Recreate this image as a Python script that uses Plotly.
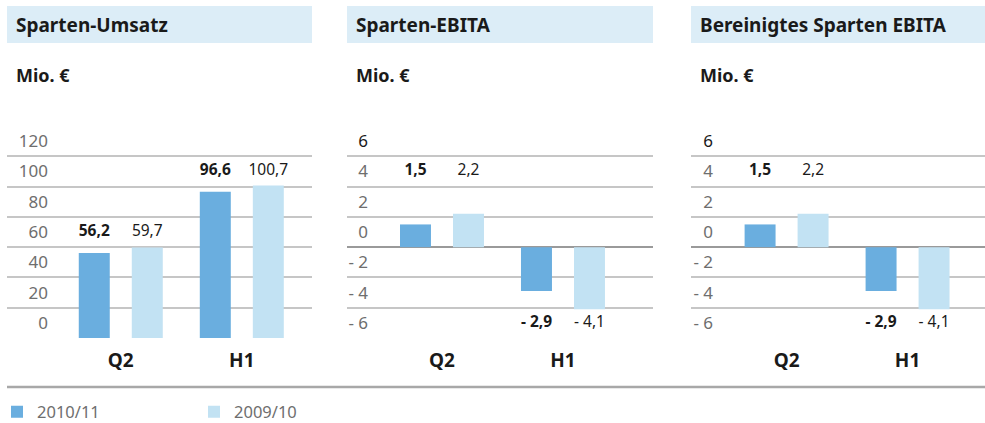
import math

import plotly.graph_objects as go

W, H = 985, 423

PANELS = ["Sparten-Umsatz", "Sparten-EBITA", "Bereinigtes Sparten EBITA"]
UNIT = "Mio. €"
CATEGORIES = ["Q2", "H1"]
SERIES = ["2010/11", "2009/10"]

umsatz_2010 = [56.2, 96.6]
umsatz_2009 = [59.7, 100.7]
ebita_2010 = [1.5, -2.9]
ebita_2009 = [2.2, -4.1]
ebita_ber_2010 = [1.5, -2.9]
ebita_ber_2009 = [2.2, -4.1]

umsatz_ticks = [0, 20, 40, 60, 80, 100, 120]
umsatz_ticktext = ["0", "20", "40", "60", "80", "100", "120"]
ebita_ticks = [-6, -4, -2, 0, 2, 4, 6]
ebita_ticktext = ["- 6", "- 4", "- 2", "0", "2", "4", "6"]

DARK = "#6aaedf"
LIGHT = "#c2e2f3"
HEAD_BG = "#dcedf7"
INK = "#1a1a1a"
MUTED = "#6e6e6e"
GRID = "#c6c6c6"
FONT = "Noto Sans"


def px_x(x):
    return x / W


def px_y(y):
    return 1 - y / H


def fmt(v):
    s = f"{abs(v):.1f}".replace(".", ",")
    return f"- {s}" if v < 0 else s


def label_pos(a, b, step):
    # centre of the first band that leaves room beyond the longer bar
    if a >= 0:
        top = max(a, b)
        c = math.floor(top / step) * step + step / 2
        while c - top < 0.43 * step:
            c += step
    else:
        top = min(a, b)
        c = math.ceil(top / step) * step - step / 2
        while top - c < 0.43 * step:
            c -= step
    return c


# panel geometry in pixels: plot left/right, right edge of y labels, x range
geo = [
    dict(x0=7, x1=312, lab=48, xr=[-0.94, 1.58]),
    dict(x0=347, x1=653, lab=368, xr=[-0.785, 1.744]),
    dict(x0=691, x1=985, lab=713, xr=[-0.79, 1.64]),
]
data = [
    (umsatz_2010, umsatz_2009, umsatz_ticks, umsatz_ticktext, 20, [0, 140]),
    (ebita_2010, ebita_2009, ebita_ticks, ebita_ticktext, 2, [-6, 8]),
    (ebita_ber_2010, ebita_ber_2009, ebita_ticks, ebita_ticktext, 2, [-6, 8]),
]

OFF = 0.219
BW = 0.256
Y_TOP, Y_BOT = 126, 338

fig = go.Figure()
layout = dict(shapes=[], annotations=[])

for i, (title, g, (s1, s2, ticks, ticktext, step, yr)) in enumerate(zip(PANELS, geo, data)):
    n = "" if i == 0 else str(i + 1)
    xa, ya = "x" + n, "y" + n
    xs = list(range(len(CATEGORIES)))

    fig.add_trace(go.Bar(
        x=xs, y=s1, width=BW, offset=-OFF - BW / 2, marker_color=DARK, marker_line_width=0,
        name=SERIES[0], showlegend=(i == 0), legendgroup="a", xaxis=xa, yaxis=ya, hoverinfo="skip",
    ))
    fig.add_trace(go.Bar(
        x=xs, y=s2, width=BW, offset=OFF - BW / 2, marker_color=LIGHT, marker_line_width=0,
        name=SERIES[1], showlegend=(i == 0), legendgroup="b", xaxis=xa, yaxis=ya, hoverinfo="skip",
    ))

    lab_y = [label_pos(a, b, step) for a, b in zip(s1, s2)]
    fig.add_trace(go.Scatter(
        x=[k - OFF for k in xs], y=lab_y, mode="text", text=[f"<b>{fmt(v)}</b>" for v in s1],
        textfont=dict(family=FONT, size=15.5, color=INK), showlegend=False, xaxis=xa, yaxis=ya,
        hoverinfo="skip",
    ))
    fig.add_trace(go.Scatter(
        x=[k + OFF for k in xs], y=lab_y, mode="text", text=[fmt(v) for v in s2],
        textfont=dict(family=FONT, size=15.5, color=INK), showlegend=False, xaxis=xa, yaxis=ya,
        hoverinfo="skip",
    ))

    grid_vals = ticks + [ticks[-1] + step]
    tt = list(ticktext)
    if yr[0] < 0:
        tt[-1] = f"<span style='color:{INK}'>{tt[-1]}</span>"

    layout["xaxis" + n] = dict(
        domain=[px_x(g["x0"]), px_x(g["x1"])], range=g["xr"], anchor=ya,
        tickvals=xs, ticktext=[f"<b>{c}</b>" for c in CATEGORIES],
        tickfont=dict(family=FONT, size=19, color=INK), showgrid=False, zeroline=False,
        showline=False, ticks="", ticklabelstandoff=9, fixedrange=True,
    )
    layout["yaxis" + n] = dict(
        domain=[px_y(Y_BOT), px_y(Y_TOP)], range=yr, anchor="free", position=px_x(g["lab"]),
        tickvals=[v + step / 2 for v in ticks], ticktext=tt, showgrid=False,
        tickfont=dict(family=FONT, size=17, color=MUTED), ticks="", showline=False,
        zeroline=yr[0] < 0, zerolinecolor="#9a9a9a", zerolinewidth=2,
        minor=dict(tickmode="array", tickvals=grid_vals, showgrid=True, gridcolor=GRID,
                   gridwidth=1.5, ticks=""),
        fixedrange=True,
    )

    x_end = g["x1"] if i < 2 else W
    layout["shapes"].append(dict(
        type="rect", xref="paper", yref="paper", x0=px_x(g["x0"]), x1=px_x(x_end),
        y0=px_y(43), y1=px_y(6), fillcolor=HEAD_BG, line_width=0, layer="below",
    ))
    layout["annotations"].append(dict(
        xref="paper", yref="paper", x=px_x(g["x0"] + 7), y=px_y(25), xanchor="left",
        yanchor="middle", text=f"<b>{title}</b>", showarrow=False,
        font=dict(family=FONT, size=19, color=INK),
    ))
    layout["annotations"].append(dict(
        xref="paper", yref="paper", x=px_x(g["x0"] + 7), y=px_y(75), xanchor="left",
        yanchor="middle", text=f"<b>{UNIT}</b>", showarrow=False,
        font=dict(family=FONT, size=18, color=INK),
    ))

layout["shapes"].append(dict(
    type="line", xref="paper", yref="paper", x0=px_x(7), x1=1, y0=px_y(387), y1=px_y(387),
    line=dict(color="#a8a8a8", width=2.5),
))

fig.update_layout(
    **layout,
    width=W, height=H, margin=dict(l=0, r=0, t=0, b=0, autoexpand=False),
    paper_bgcolor="white", plot_bgcolor="white",
    showlegend=True,
    legend=dict(
        orientation="h", x=px_x(-3), y=px_y(412), xanchor="left", yanchor="middle",
        entrywidth=152, entrywidthmode="pixels", font=dict(family=FONT, size=16.5, color=MUTED),
        itemclick=False, itemdoubleclick=False, bgcolor="rgba(0,0,0,0)",
    ),
    font=dict(family=FONT),
)

fig.write_html(
    "out.html",
    config={"displayModeBar": False},
    post_script="document.body.style.margin='0';document.body.style.overflow='hidden';",
)
